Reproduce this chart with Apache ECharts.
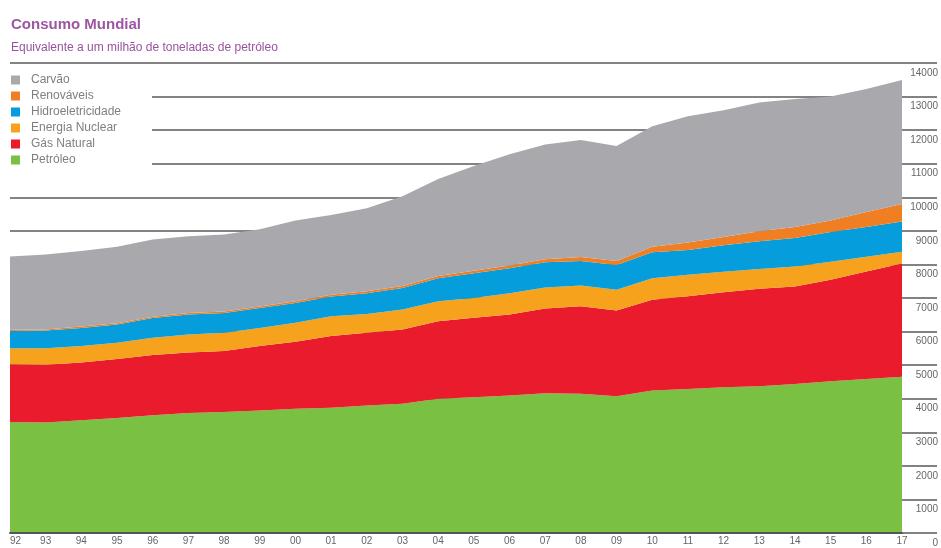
<!DOCTYPE html>
<html>
<head>
<meta charset="utf-8">
<script src="https://cdn.jsdelivr.net/npm/echarts@6/dist/echarts.min.js"></script>
<style>
  html, body { margin: 0; padding: 0; background: #fff; overflow: hidden; }
  #chart { width: 941px; height: 548px; }
</style>
</head>
<body>
<div id="chart"></div>
<script>
// Years 1992–2017, two-digit labels
const years = ['92','93','94','95','96','97','98','99','00','01','02','03','04','05','06','07','08','09','10','11','12','13','14','15','16','17'];

// Consumption by source, million tonnes oil equivalent (stacked bottom → top)
const petroleo      = [3310,3290,3360,3425,3505,3575,3605,3650,3700,3730,3800,3850,4000,4045,4095,4165,4145,4070,4245,4290,4340,4370,4440,4520,4590,4655];
const gasNatural    = [1720,1720,1720,1755,1800,1800,1820,1920,2000,2135,2165,2215,2310,2365,2410,2520,2610,2555,2705,2760,2835,2905,2905,3020,3200,3375];
const nuclear       = [ 475, 490, 490, 490, 510, 540, 540, 540, 560, 590, 560, 590, 590, 590, 640, 630, 620, 620, 640, 640, 610, 590, 590, 540, 440, 345];
const hidro         = [ 515, 530, 540, 540, 590, 590, 590, 590, 590, 590, 620, 640, 690, 740, 740, 750, 730, 740, 770, 740, 785, 825, 855, 885, 885, 905];
const renovaveis    = [  35,  35,  40,  40,  40,  45,  45,  45,  50,  50,  55,  60,  65,  70,  80,  90, 115, 115, 165, 225, 250, 295, 325, 345, 445, 520];
const carvao        = [2180,2230,2250,2275,2300,2290,2290,2300,2410,2380,2475,2675,2890,3125,3315,3420,3490,3425,3590,3760,3770,3840,3810,3690,3665,3690];

const legendOrder = ['Carvão','Renováveis','Hidroeletricidade','Energia Nuclear','Gás Natural','Petróleo'];

const colors = {
  'Petróleo': '#79c043',
  'Gás Natural': '#ea1b2d',
  'Energia Nuclear': '#f6a21d',
  'Hidroeletricidade': '#069ddc',
  'Renováveis': '#f07f24',
  'Carvão': '#a9a9ad'
};

function areaSeries(name, data) {
  return {
    name: name,
    type: 'line',
    stack: 'total',
    data: data,
    symbol: 'none',
    showSymbol: false,
    smooth: false,
    lineStyle: { width: 0 },
    itemStyle: { color: colors[name] },
    areaStyle: { color: colors[name], opacity: 1 },
    emphasis: { disabled: true },
    z: 2
  };
}

const gridLine = { color: '#5a5a5a', width: 1.5 };
const font = "'Liberation Sans', Arial, sans-serif";

const chart = echarts.init(document.getElementById('chart'), null, { renderer: 'canvas' });
chart.setOption({
  animation: false,
  backgroundColor: '#ffffff',
  title: [
    {
      text: 'Consumo Mundial',
      left: 11, top: 17, padding: 0,
      textStyle: { fontFamily: font, fontSize: 15, fontWeight: 'bold', color: '#9d55a4' }
    },
    {
      text: 'Equivalente a um milhão de toneladas de petróleo',
      left: 11, top: 42, padding: 0,
      textStyle: { fontFamily: font, fontSize: 12, fontWeight: 'normal', color: '#9a52a0' }
    }
  ],
  legend: {
    data: legendOrder,
    orient: 'vertical',
    left: 11, top: 74,
    itemWidth: 9, itemHeight: 9,
    itemGap: 4,
    icon: 'rect',
    padding: 0,
    textStyle: { fontFamily: font, fontSize: 12, lineHeight: 12, color: '#808080', padding: [0, 0, 0, 6] },
    z: 5
  },
  graphic: [
    {
      type: 'rect',
      z: 1,
      silent: true,
      shape: { x: 9, y: 72, width: 143, height: 104 },
      style: { fill: '#ffffff' }
    }
  ],
  grid: { left: 10, right: 35, top: 63, bottom: 11, containLabel: false },
  xAxis: {
    type: 'category',
    data: years,
    boundaryGap: false,
    axisLine: { show: true, lineStyle: { color: '#555555', width: 2 } },
    axisTick: { show: false },
    axisLabel: { fontFamily: font, fontSize: 10, color: '#666666', margin: 3, interval: 0, alignMinLabel: 'left' },
    splitLine: { show: false },
    z: 3
  },
  yAxis: {
    type: 'value',
    position: 'right',
    min: 0, max: 14000, interval: 1000,
    axisLine: { show: false },
    axisTick: { show: true, length: 35, lineStyle: gridLine },
    axisLabel: {
      fontFamily: font, fontSize: 10, color: '#666666',
      align: 'right', verticalAlign: 'top', margin: 36, padding: [5, 0, 0, 0],
      formatter: function (v) { return String(v); }
    },
    splitLine: { show: true, lineStyle: gridLine }
  },
  series: [
    areaSeries('Petróleo', petroleo),
    areaSeries('Gás Natural', gasNatural),
    areaSeries('Energia Nuclear', nuclear),
    areaSeries('Hidroeletricidade', hidro),
    areaSeries('Renováveis', renovaveis),
    areaSeries('Carvão', carvao)
  ]
});
</script>
</body>
</html>
